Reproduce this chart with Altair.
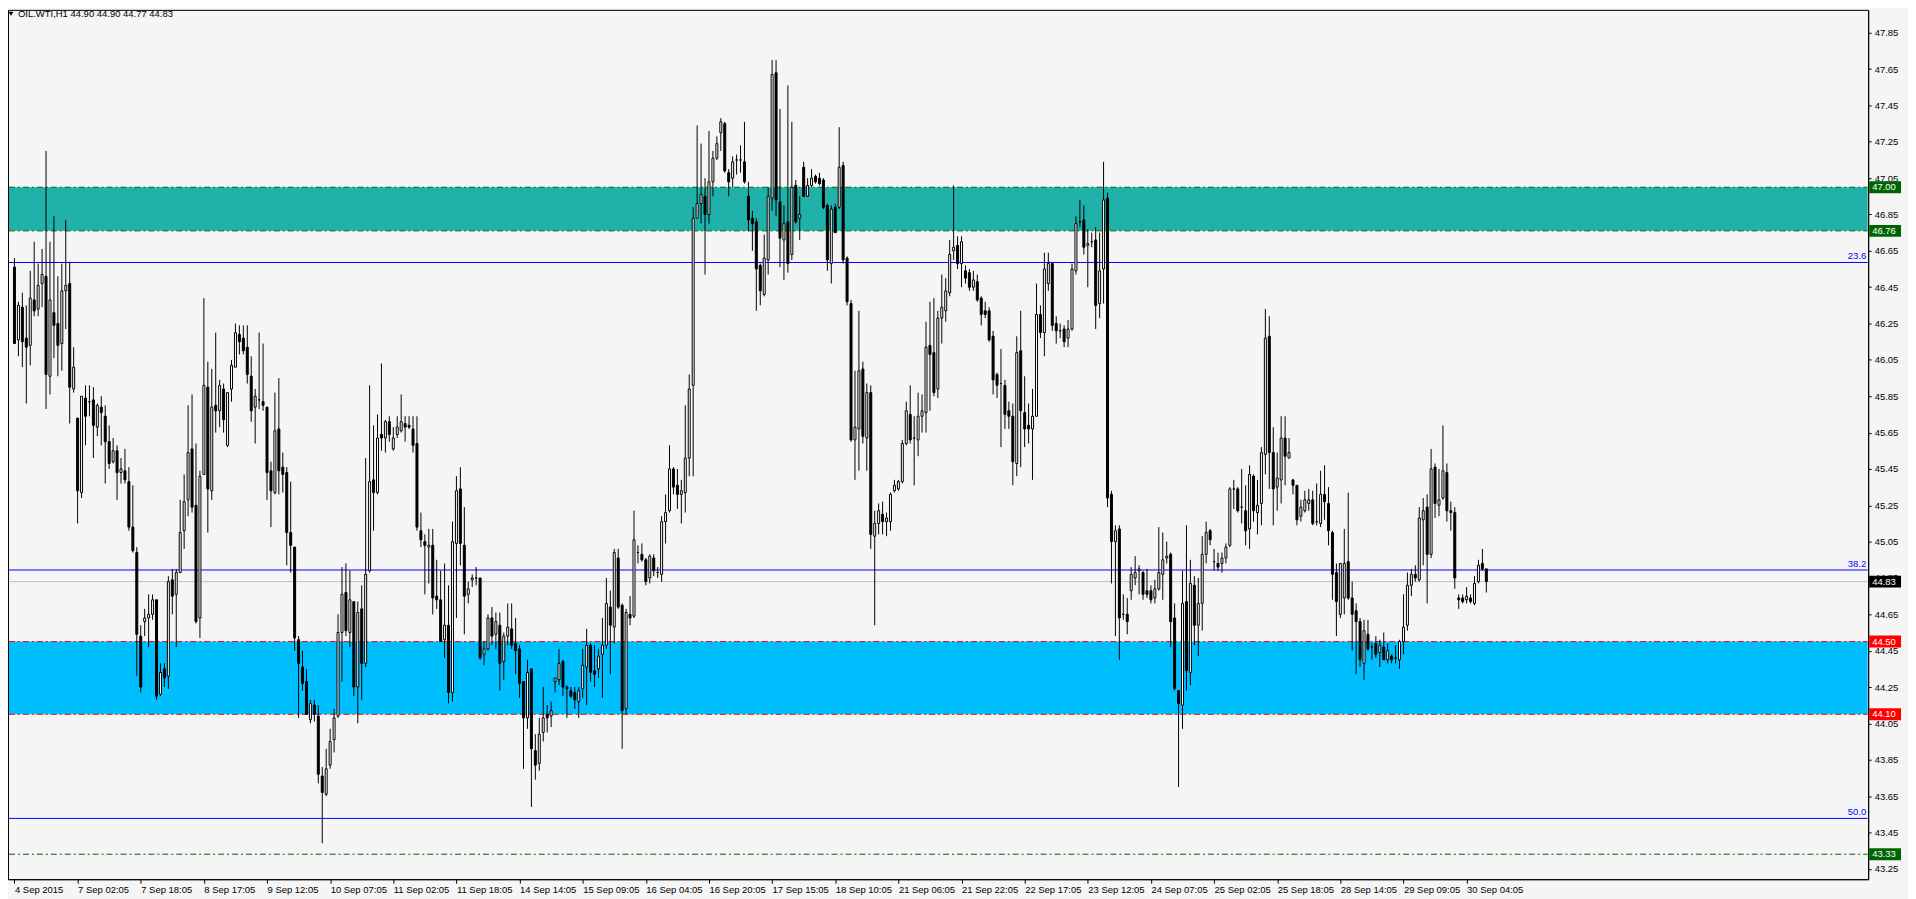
import altair as alt
import pandas as pd

# ---------------- data (OIL.WTI, H1) ----------------
opens = [
    46.56, 46.16, 46.34, 46.17, 46.13, 46.38, 46.33, 46.47, 46.51, 45.96,
    46.31, 46.25, 46.14, 46.43, 46.47, 45.89, 45.73, 45.32, 45.84, 45.82,
    45.83, 45.68, 45.79, 45.74, 45.60, 45.49, 45.55, 45.43, 45.44, 45.38,
    45.13, 44.99, 44.53, 44.61, 44.63, 44.65, 44.73, 44.21, 44.35, 44.31,
    44.84, 44.76, 44.88, 45.11, 45.28, 45.56, 45.25, 44.63, 45.42, 45.90,
    45.33, 45.80, 45.77, 45.89, 45.58, 45.89, 46.01, 46.19, 46.17, 46.12,
    45.96, 45.79, 45.83, 45.82, 45.79, 45.44, 45.32, 45.67, 45.46, 45.43,
    45.10, 45.02, 44.51, 44.36, 44.28, 44.07, 44.15, 44.09, 43.76, 43.66,
    43.82, 43.96, 44.09, 44.55, 44.77, 44.55, 44.72, 44.25, 44.68, 44.38,
    44.89, 45.39, 45.32, 45.64, 45.62, 45.71, 45.56, 45.64, 45.66, 45.70,
    45.69, 45.67, 45.59, 45.11, 45.05, 45.02, 45.03, 44.75, 44.73, 44.51,
    44.59, 44.22, 45.04, 45.34, 45.03, 44.76, 44.84, 44.85, 44.85, 44.43,
    44.46, 44.63, 44.54, 44.59, 44.39, 44.53, 44.57, 44.49, 44.46, 44.28,
    44.08, 44.35, 43.90, 43.83, 44.00, 44.10, 44.09, 44.28, 44.29, 44.39,
    44.25, 44.23, 44.22, 44.17, 44.24, 44.36, 44.48, 44.34, 44.35, 44.43,
    44.48, 44.69, 44.58, 44.96, 44.70, 44.13, 44.65, 44.64, 44.99, 44.98,
    44.95, 44.85, 44.96, 44.88, 44.87, 45.16, 45.22, 45.45, 45.36, 45.31,
    45.32, 45.51, 45.91, 46.83, 46.91, 46.95, 46.85, 47.03, 47.16, 47.30,
    47.35, 47.08, 47.05, 47.15, 47.15, 47.14, 46.95, 46.83, 46.81, 46.57,
    46.41, 46.60, 46.94, 47.63, 46.92, 46.71, 46.81, 46.63, 47.01, 46.83,
    47.11, 46.95, 47.01, 47.06, 47.05, 47.04, 46.90, 46.58, 46.89, 46.89,
    47.12, 46.61, 46.36, 45.61, 45.67, 46.00, 45.62, 45.87, 45.08, 45.15,
    45.20, 45.16, 45.16, 45.33, 45.34, 45.38, 45.59, 45.75, 45.62, 45.61,
    45.74, 45.76, 46.13, 46.09, 45.89, 46.28, 46.32, 46.42, 46.65, 46.68,
    46.58, 46.54, 46.53, 46.45, 46.48, 46.39, 46.32, 46.32, 46.18, 45.97,
    45.92, 45.91, 45.77, 45.74, 45.48, 46.10, 45.76, 45.69, 45.67, 45.74,
    46.30, 46.20, 46.47, 46.58, 46.25, 46.21, 46.22, 46.17, 46.22, 46.54,
    46.81, 46.82, 46.68, 46.70, 46.71, 46.36, 46.55, 46.94, 45.31, 45.05,
    45.12, 44.65, 44.65, 44.78, 44.85, 44.89, 44.88, 44.78, 44.78, 44.74,
    44.79, 44.87, 44.96, 44.98, 44.63, 44.23, 44.15, 44.72, 44.33, 44.81,
    44.59, 44.71, 44.98, 45.11, 44.94, 44.93, 44.93, 44.96, 45.03, 45.34,
    45.34, 45.24, 45.22, 45.12, 45.41, 45.21, 45.26, 45.53, 46.18, 45.54,
    45.35, 45.39, 45.62, 45.51, 45.39, 45.36, 45.19, 45.22, 45.26, 45.28,
    45.16, 45.15, 45.31, 45.26, 45.10, 44.88, 44.65, 44.74, 44.94, 44.74,
    44.67, 44.61, 44.38, 44.54, 44.47, 44.49, 44.44, 44.47, 44.40, 44.42,
    44.41, 44.40, 44.50, 44.59, 44.81, 44.87, 44.84, 45.17, 45.24, 44.98,
    45.46, 45.25, 45.29, 45.43, 45.22, 45.21, 44.74, 44.74, 44.73, 44.74,
    44.71, 44.83, 44.93, 44.90,
]
highs = [
    46.61, 46.37, 46.42, 46.35, 46.54, 46.70, 46.58, 46.66, 47.20, 46.70,
    46.84, 46.51, 46.58, 46.82, 46.59, 46.12, 45.73, 45.85, 45.91, 45.91,
    45.90, 45.81, 45.85, 45.80, 45.69, 45.62, 45.58, 45.51, 45.56, 45.46,
    45.36, 45.02, 44.59, 44.68, 44.76, 44.76, 44.73, 44.38, 44.38, 44.86,
    44.90, 44.90, 45.28, 45.42, 45.80, 45.86, 45.59, 45.44, 46.39, 46.04,
    46.00, 46.20, 45.94, 45.92, 45.87, 46.05, 46.25, 46.24, 46.24, 46.24,
    46.07, 45.89, 46.20, 46.14, 45.79, 45.49, 45.87, 45.95, 45.54, 45.46,
    45.38, 45.02, 44.53, 44.45, 44.35, 44.18, 44.18, 44.15, 43.81, 43.91,
    44.02, 44.13, 44.65, 44.91, 44.93, 44.89, 44.72, 44.72, 44.81, 45.51,
    45.91, 45.69, 45.75, 46.03, 45.72, 45.74, 45.68, 45.74, 45.86, 45.74,
    45.74, 45.74, 45.74, 45.21, 45.09, 45.12, 45.12, 44.95, 44.89, 44.93,
    44.81, 45.16, 45.41, 45.46, 45.24, 44.83, 44.87, 44.91, 44.85, 44.50,
    44.65, 44.69, 44.66, 44.66, 44.55, 44.71, 44.71, 44.63, 44.48, 44.28,
    44.40, 44.35, 43.99, 44.08, 44.25, 44.15, 44.17, 44.30, 44.46, 44.40,
    44.26, 44.25, 44.25, 44.25, 44.46, 44.57, 44.49, 44.48, 44.46, 44.63,
    44.85, 44.78, 45.01, 45.01, 44.71, 44.68, 44.75, 45.22, 45.03, 45.04,
    44.96, 44.98, 44.98, 44.91, 45.19, 45.31, 45.58, 45.46, 45.45, 45.39,
    45.80, 45.97, 46.89, 47.34, 47.24, 47.05, 47.31, 47.20, 47.28, 47.38,
    47.36, 47.10, 47.17, 47.18, 47.23, 47.36, 47.03, 46.87, 46.83, 46.58,
    46.74, 47.00, 47.70, 47.70, 47.43, 46.90, 47.56, 47.36, 47.04, 46.95,
    47.14, 47.05, 47.10, 47.07, 47.08, 47.05, 46.91, 46.90, 46.91, 47.33,
    47.14, 46.62, 46.38, 45.99, 46.32, 46.04, 45.92, 45.91, 45.22, 45.26,
    45.27, 45.21, 45.32, 45.39, 45.39, 45.61, 45.82, 45.91, 45.74, 45.87,
    45.86, 46.26, 46.37, 46.39, 46.32, 46.52, 46.50, 46.71, 47.01, 46.73,
    46.73, 46.57, 46.55, 46.54, 46.52, 46.40, 46.37, 46.34, 46.21, 45.98,
    46.11, 45.94, 45.82, 45.81, 46.18, 46.32, 45.96, 45.81, 45.89, 46.47,
    46.35, 46.64, 46.64, 46.58, 46.29, 46.25, 46.24, 46.27, 46.58, 46.84,
    46.93, 46.90, 46.77, 46.75, 46.78, 46.75, 47.14, 46.97, 45.33, 45.14,
    45.14, 44.76, 44.74, 44.91, 44.97, 44.92, 44.89, 44.90, 44.81, 44.84,
    45.13, 45.10, 45.05, 44.99, 44.71, 44.23, 44.89, 45.14, 44.95, 44.86,
    44.85, 45.08, 45.16, 45.12, 45.01, 44.99, 44.99, 45.04, 45.35, 45.39,
    45.35, 45.45, 45.36, 45.47, 45.42, 45.39, 45.57, 46.33, 46.29, 45.68,
    45.54, 45.74, 45.74, 45.62, 45.39, 45.36, 45.28, 45.33, 45.34, 45.33,
    45.37, 45.44, 45.47, 45.35, 45.11, 44.93, 44.93, 45.12, 45.32, 44.83,
    44.71, 44.63, 44.62, 44.62, 44.49, 44.53, 44.51, 44.55, 44.49, 44.43,
    44.48, 44.51, 44.76, 44.88, 44.90, 44.92, 45.24, 45.29, 45.31, 45.56,
    45.48, 45.45, 45.69, 45.48, 45.27, 45.24, 44.76, 44.76, 44.80, 44.76,
    44.86, 44.95, 45.01, 44.90,
]
lows = [
    46.14, 46.07, 46.01, 45.81, 46.02, 46.29, 46.29, 46.34, 45.78, 45.86,
    46.06, 45.96, 45.99, 46.22, 45.70, 45.87, 45.15, 45.29, 45.58, 45.74,
    45.51, 45.63, 45.58, 45.37, 45.45, 45.48, 45.28, 45.37, 45.37, 45.11,
    44.99, 44.31, 44.22, 44.53, 44.47, 44.62, 44.18, 44.20, 44.25, 44.24,
    44.65, 44.47, 44.88, 45.01, 45.19, 45.21, 44.60, 44.52, 45.42, 45.10,
    45.28, 45.65, 45.68, 45.65, 45.57, 45.82, 46.01, 46.08, 46.08, 45.92,
    45.71, 45.59, 45.78, 45.77, 45.28, 45.13, 45.31, 45.31, 45.32, 44.92,
    44.88, 44.45, 44.08, 44.23, 44.10, 44.05, 44.06, 43.72, 43.39, 43.65,
    43.80, 43.89, 44.08, 44.28, 44.53, 44.47, 44.20, 44.05, 44.18, 44.36,
    44.88, 45.11, 45.31, 45.55, 45.54, 45.60, 45.55, 45.62, 45.65, 45.60,
    45.67, 45.54, 45.11, 45.02, 44.76, 44.82, 44.65, 44.68, 44.50, 44.41,
    44.16, 44.17, 44.63, 44.92, 44.54, 44.71, 44.80, 44.81, 44.40, 44.37,
    44.45, 44.48, 44.46, 44.23, 44.29, 44.48, 44.46, 44.32, 44.19, 43.80,
    44.02, 43.59, 43.74, 43.79, 43.95, 44.00, 44.03, 44.22, 44.26, 44.20,
    44.08, 44.19, 44.13, 44.08, 44.19, 44.15, 44.28, 44.25, 44.30, 44.19,
    44.46, 44.32, 44.49, 44.68, 43.91, 44.10, 44.59, 44.63, 44.93, 44.94,
    44.81, 44.82, 44.86, 44.85, 44.83, 45.04, 45.21, 45.31, 45.23, 45.15,
    45.21, 45.41, 45.41, 46.83, 46.80, 46.52, 46.80, 46.95, 47.15, 47.20,
    47.08, 46.95, 47.00, 47.07, 47.08, 47.02, 46.76, 46.65, 46.32, 46.35,
    46.40, 46.52, 46.87, 46.84, 46.56, 46.49, 46.53, 46.60, 46.80, 46.71,
    46.95, 46.95, 47.00, 47.02, 47.01, 46.88, 46.54, 46.47, 46.75, 46.88,
    46.58, 46.35, 45.60, 45.39, 45.44, 45.59, 45.44, 45.01, 44.59, 45.09,
    45.09, 45.08, 45.11, 45.32, 45.33, 45.37, 45.58, 45.59, 45.36, 45.52,
    45.65, 45.65, 45.77, 45.85, 45.84, 46.14, 46.26, 46.40, 46.60, 46.55,
    46.45, 46.47, 46.43, 46.43, 46.37, 46.24, 46.28, 46.15, 45.86, 45.84,
    45.57, 45.67, 45.67, 45.36, 45.41, 45.46, 45.57, 45.59, 45.39, 45.74,
    46.17, 46.07, 46.43, 46.21, 46.14, 46.17, 46.12, 46.12, 46.21, 46.52,
    46.78, 46.63, 46.45, 46.67, 46.22, 46.28, 46.36, 45.24, 44.82, 44.53,
    44.40, 44.62, 44.54, 44.73, 44.81, 44.76, 44.73, 44.74, 44.71, 44.71,
    44.78, 44.73, 44.93, 44.47, 44.23, 43.70, 44.02, 44.23, 44.26, 44.48,
    44.42, 44.56, 44.93, 45.03, 44.89, 44.89, 44.88, 44.93, 45.02, 45.23,
    45.21, 45.15, 45.03, 45.01, 45.16, 45.09, 45.14, 45.42, 45.34, 45.14,
    45.22, 45.26, 45.36, 45.51, 45.31, 45.14, 45.16, 45.21, 45.22, 45.14,
    45.14, 45.13, 45.17, 45.03, 44.73, 44.53, 44.63, 44.65, 44.73, 44.45,
    44.32, 44.36, 44.29, 44.45, 44.40, 44.41, 44.36, 44.40, 44.38, 44.38,
    44.38, 44.35, 44.43, 44.56, 44.75, 44.83, 44.83, 44.92, 44.71, 44.96,
    45.18, 45.19, 45.28, 45.16, 45.11, 44.79, 44.68, 44.71, 44.71, 44.71,
    44.70, 44.82, 44.89, 44.77,
]
closes = [
    46.14, 46.35, 46.15, 46.12, 46.39, 46.32, 46.46, 46.52, 45.97, 46.38,
    46.24, 46.13, 46.43, 46.46, 45.90, 46.01, 45.33, 45.85, 45.74, 45.82,
    45.69, 45.80, 45.76, 45.60, 45.48, 45.55, 45.43, 45.45, 45.39, 45.13,
    45.00, 44.54, 44.25, 44.63, 44.65, 44.73, 44.20, 44.33, 44.30, 44.83,
    44.75, 44.88, 45.10, 45.27, 45.54, 45.24, 44.61, 45.41, 45.91, 45.34,
    45.79, 45.77, 45.91, 45.72, 45.87, 46.02, 46.20, 46.15, 46.10, 45.97,
    45.77, 45.85, 45.83, 45.80, 45.43, 45.33, 45.66, 45.44, 45.42, 45.10,
    45.03, 44.52, 44.38, 44.27, 44.10, 44.16, 44.10, 43.77, 43.67, 43.80,
    43.95, 44.08, 44.55, 44.76, 44.56, 44.73, 44.25, 44.66, 44.38, 44.87,
    45.38, 45.32, 45.62, 45.62, 45.71, 45.64, 45.62, 45.68, 45.71, 45.68,
    45.68, 45.58, 45.13, 45.06, 45.03, 45.03, 44.74, 44.73, 44.50, 44.59,
    44.22, 45.05, 45.33, 45.04, 44.75, 44.79, 44.85, 44.85, 44.41, 44.46,
    44.63, 44.53, 44.61, 44.38, 44.53, 44.58, 44.48, 44.45, 44.27, 44.08,
    44.33, 43.91, 43.82, 43.99, 44.08, 44.08, 44.12, 44.30, 44.38, 44.25,
    44.24, 44.20, 44.18, 44.23, 44.37, 44.48, 44.33, 44.32, 44.42, 44.48,
    44.71, 44.59, 44.99, 44.69, 44.12, 44.66, 44.63, 45.06, 44.99, 44.95,
    44.83, 44.97, 44.89, 44.88, 45.16, 45.21, 45.45, 45.35, 45.31, 45.33,
    45.51, 45.89, 46.83, 46.91, 46.96, 46.85, 47.03, 47.16, 47.24, 47.36,
    47.09, 47.03, 47.14, 47.15, 47.15, 47.03, 46.82, 46.80, 46.55, 46.43,
    46.61, 46.95, 47.62, 46.93, 46.72, 46.80, 46.58, 47.00, 46.81, 46.85,
    46.95, 47.01, 47.05, 47.03, 47.02, 46.89, 46.60, 46.88, 46.75, 47.11,
    46.60, 46.37, 45.61, 45.68, 45.99, 45.63, 45.87, 45.09, 45.15, 45.22,
    45.16, 45.18, 45.31, 45.36, 45.38, 45.59, 45.77, 45.61, 45.62, 45.74,
    45.77, 46.12, 46.08, 45.87, 46.28, 46.34, 46.43, 46.63, 46.67, 46.58,
    46.70, 46.50, 46.45, 46.49, 46.38, 46.30, 46.30, 46.16, 45.94, 45.91,
    45.92, 45.75, 45.74, 45.49, 46.09, 45.77, 45.67, 45.67, 45.74, 46.30,
    46.20, 46.55, 46.58, 46.24, 46.21, 46.21, 46.15, 46.22, 46.55, 46.80,
    46.81, 46.67, 46.69, 46.70, 46.35, 46.54, 46.93, 45.29, 45.05, 45.11,
    44.63, 44.65, 44.61, 44.87, 44.88, 44.90, 44.76, 44.76, 44.73, 44.79,
    44.88, 44.95, 44.97, 44.61, 44.24, 44.16, 44.71, 44.34, 44.82, 44.59,
    44.71, 44.98, 45.10, 45.06, 44.94, 44.91, 44.96, 45.02, 45.34, 45.34,
    45.22, 45.24, 45.11, 45.42, 45.22, 45.25, 45.54, 46.17, 45.54, 45.34,
    45.40, 45.62, 45.52, 45.54, 45.36, 45.17, 45.24, 45.28, 45.28, 45.15,
    45.16, 45.31, 45.27, 45.11, 44.87, 44.72, 44.93, 44.93, 44.74, 44.65,
    44.61, 44.40, 44.56, 44.46, 44.47, 44.43, 44.48, 44.40, 44.45, 44.40,
    44.41, 44.50, 44.58, 44.81, 44.87, 44.85, 45.18, 45.22, 44.98, 45.45,
    45.26, 45.28, 45.44, 45.22, 45.21, 44.85, 44.73, 44.72, 44.75, 44.72,
    44.82, 44.92, 44.90, 44.83,
]

x_labels = [
    "4 Sep 2015", "7 Sep 02:05", "7 Sep 18:05", "8 Sep 17:05", "9 Sep 12:05",
    "10 Sep 07:05", "11 Sep 02:05", "11 Sep 18:05", "14 Sep 14:05", "15 Sep 09:05",
    "16 Sep 04:05", "16 Sep 20:05", "17 Sep 15:05", "18 Sep 10:05", "21 Sep 06:05",
    "21 Sep 22:05", "22 Sep 17:05", "23 Sep 12:05", "24 Sep 07:05", "25 Sep 02:05",
    "25 Sep 18:05", "28 Sep 14:05", "29 Sep 09:05", "30 Sep 04:05",
]
label_step = 16
y_ticks = [47.85, 47.65, 47.45, 47.25, 47.05, 46.85, 46.65, 46.45, 46.25, 46.05,
           45.85, 45.65, 45.45, 45.25, 45.05, 44.85, 44.65, 44.45, 44.25, 44.05,
           43.85, 43.65, 43.45, 43.25]

zone_lo = [46.76, 44.10]
zone_hi = [47.00, 44.50]
zone_colors = ["#20b2aa", "#00bfff"]

level_prices = [47.00, 46.76, 44.50, 44.10, 43.33]
level_colors = ["#006400", "#006400", "#ff0000", "#ff0000", "#006400"]

fib_names = ["23.6", "38.2", "50.0"]
fib_prices = [46.586, 44.894, 43.527]

bid_price = 44.83

tag_prices = [47.00, 46.76, 44.83, 44.50, 44.10, 43.33]
tag_colors = ["#006400", "#006400", "#000000", "#ff0000", "#ff0000", "#006400"]

symbol = "OIL.WTI,H1"

# ---------------- layout ----------------
W, H = 1868, 873
FONT = "Liberation Sans"
FS = 9.5

n = len(opens)
df = pd.DataFrame({
    "i": list(range(n)),
    "open": opens, "high": highs, "low": lows, "close": closes,
})
df["dir"] = ["up" if c >= o else "down" for o, c in zip(opens, closes)]

xs = alt.Scale(domain=[-0.3765, 468.5], nice=False, zero=False)
ys = alt.Scale(domain=[43.1925, 47.976], nice=False, zero=False)

label_expr = "[" + ",".join("'" + s + "'" for s in x_labels) + "][round(datum.value / %d)]" % label_step
x_axis = alt.Axis(
    values=[k * label_step for k in range(len(x_labels))],
    labelExpr=label_expr, labelAlign="left", labelBaseline="top",
    labelPadding=1, tickSize=4, tickColor="black", domainColor="black",
    labelColor="black", labelFont=FONT, labelFontSize=FS, labelOverlap=False,
    labelFlush=False, grid=False, title=None,
)
y_axis = alt.Axis(
    orient="right", values=y_ticks, format=".2f", tickSize=3, tickColor="black",
    domainColor="black", labelColor="black", labelFont=FONT, labelFontSize=FS,
    labelPadding=3, labelOverlap=False, labelFlush=False, grid=False, title=None,
)


def Y(field):
    return alt.Y(field, scale=ys, axis=y_axis)


# zones
zdf = pd.DataFrame({"lo": zone_lo, "hi": zone_hi, "c": zone_colors})
zones = alt.Chart(zdf).mark_rect().encode(
    x=alt.value(1), x2=alt.value(W - 0.5),
    y=Y("lo:Q"), y2="hi:Q",
    color=alt.Color("c:N", scale=None),
)

# dash-dot levels
ldf = pd.DataFrame({"p": level_prices, "c": level_colors})
levels = alt.Chart(ldf).mark_rule(strokeWidth=1, strokeDash=[6, 3, 2, 3]).encode(
    x=alt.value(1), x2=alt.value(W - 0.5),
    y=Y("p:Q"),
    color=alt.Color("c:N", scale=None),
)

# fibonacci lines + labels
fdf = pd.DataFrame({"p": fib_prices, "name": fib_names})
fib_lines = alt.Chart(fdf).mark_rule(color="#0000ff", strokeWidth=1).encode(
    x=alt.value(1), x2=alt.value(W - 0.5), y=Y("p:Q"),
)
fib_text = alt.Chart(fdf).mark_text(
    align="right", baseline="bottom", dy=-1, color="#0000ff", font=FONT, fontSize=FS
).encode(x=alt.value(W - 2), y=Y("p:Q"), text="name:N")

# bid line
bdf = pd.DataFrame({"p": [bid_price]})
bid_line = alt.Chart(bdf).mark_rule(color="#c0c0c0", strokeWidth=1).encode(
    x=alt.value(1), x2=alt.value(W - 0.5), y=Y("p:Q"),
)

# candles
base = alt.Chart(df)
wicks = base.mark_rule(color="black", strokeWidth=1).encode(
    x=alt.X("i:Q", scale=xs, axis=x_axis),
    y=Y("low:Q"), y2="high:Q",
)
bodies = base.mark_bar(size=2, stroke="black", strokeWidth=1).encode(
    x=alt.X("i:Q", scale=xs, axis=x_axis),
    y=Y("open:Q"), y2="close:Q",
    fill=alt.Fill("dir:N", scale=alt.Scale(domain=["up", "down"], range=["#ffffff", "#000000"]), legend=None),
)

# price tags on the right axis
tdf = pd.DataFrame({"p": tag_prices, "c": tag_colors,
                    "t": ["%.2f" % v for v in tag_prices]})
tag_box = alt.Chart(tdf).mark_rect(yOffset=-6, y2Offset=6).encode(
    x=alt.value(W + 1), x2=alt.value(W + 33),
    y=Y("p:Q"), y2="p:Q",
    color=alt.Color("c:N", scale=None),
)
tag_text = alt.Chart(tdf).mark_text(
    align="left", baseline="middle", color="white", font=FONT, fontSize=FS
).encode(x=alt.value(W + 4), y=Y("p:Q"), text="t:N")

# header
hdr = pd.DataFrame({"t": ["%s  %.2f %.2f %.2f %.2f" % (symbol, opens[-1], highs[-1], lows[-1], closes[-1])]})
header = alt.Chart(hdr).mark_text(
    align="left", baseline="middle", color="black", font=FONT, fontSize=FS
).encode(x=alt.value(10), y=alt.value(4), text="t:N")
tri = alt.Chart(hdr).mark_point(
    shape="triangle-down", filled=True, color="black", size=22, opacity=1
).encode(x=alt.value(3), y=alt.value(4))

chart = alt.layer(
    zones, levels, fib_lines, bid_line, wicks, bodies, fib_text,
    tag_box, tag_text, header, tri,
).properties(
    width=W, height=H,
    autosize=alt.AutoSizeParams(type="none"),
    padding={"left": 0, "top": 0, "right": 40, "bottom": 20},
    background="#f5f5f5",
).configure_view(stroke="black", strokeWidth=1)

chart.save("out.html", embed_options={"renderer": "svg", "actions": False})
